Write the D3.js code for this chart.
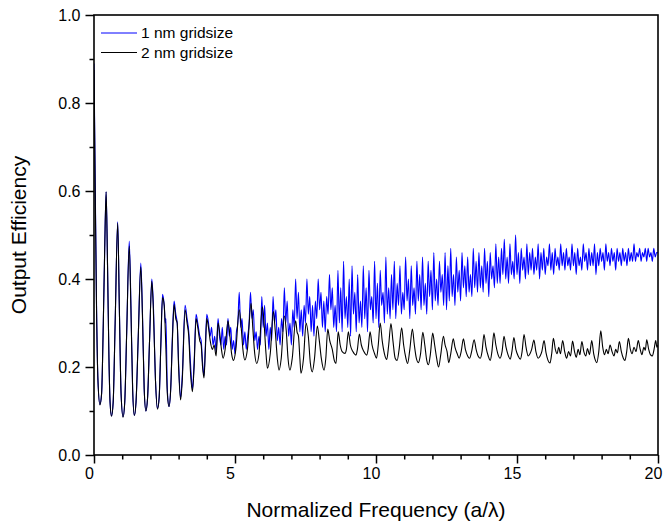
<!DOCTYPE html>
<html>
<head>
<meta charset="utf-8">
<script src="https://cdn.jsdelivr.net/npm/d3@7"></script>
<style>
  html, body { margin: 0; padding: 0; background: #fff; }
  svg { display: block; font-family: "Liberation Sans", Arial, sans-serif; }
</style>
</head>
<body>
<svg id="chart" width="664" height="524"></svg>
<script>
// Series labels
const seriesNames = ["1 nm gridsize", "2 nm gridsize"];

// Axis ticks
const xMajorTicks = [0, 5, 10, 15, 20];
const xMinorTicks = [1, 2, 3, 4, 6, 7, 8, 9, 11, 12, 13, 14, 16, 17, 18, 19];
const yMajorTicks = [0.0, 0.2, 0.4, 0.6, 0.8, 1.0];
const yMinorTicks = [0.1, 0.3, 0.5, 0.7, 0.9];

// 2 nm grid: [frequency a/λ, efficiency]
const coarseGrid = [
  [0,0.875],[0.04,0.62],[0.09,0.33],[0.14,0.17],[0.21,0.114],[0.27,0.14],[0.33,0.30],[0.38,0.47],[0.43,0.598],[0.48,0.43],
  [0.53,0.22],[0.57,0.12],[0.62,0.088],[0.68,0.12],[0.75,0.30],[0.84,0.527],[0.90,0.33],[0.96,0.14],[1.03,0.086],[1.09,0.12],
  [1.16,0.28],[1.25,0.475],[1.31,0.33],[1.37,0.15],[1.43,0.09],[1.49,0.12],[1.57,0.27],[1.66,0.428],[1.72,0.31],[1.78,0.15],
  [1.84,0.10],[1.90,0.13],[1.97,0.26],[2.05,0.395],[2.10,0.34],[2.18,0.17],[2.25,0.104],[2.31,0.13],[2.37,0.25],[2.43,0.358],
  [2.49,0.34],[2.55,0.24],[2.60,0.14],[2.66,0.11],[2.72,0.15],[2.78,0.26],[2.84,0.342],[2.90,0.31],[2.95,0.30],[3.00,0.20],
  [3.07,0.125],[3.13,0.17],[3.23,0.33],[3.30,0.30],[3.36,0.27],[3.42,0.19],[3.49,0.144],[3.55,0.20],[3.62,0.31],[3.68,0.29],
  [3.75,0.26],[3.80,0.25],[3.85,0.20],[3.90,0.175],[3.95,0.24],[4.00,0.31],[4.06,0.29],[4.12,0.26],[4.20,0.24],[4.26,0.25],
  [4.33,0.225],[4.40,0.30],[4.47,0.27],[4.52,0.24],[4.58,0.22],[4.65,0.24],[4.75,0.305],[4.82,0.27],[4.88,0.23],[4.95,0.215],
  [5.03,0.24],[5.15,0.33],[5.22,0.29],[5.28,0.24],[5.35,0.216],[5.44,0.24],[5.57,0.345],[5.63,0.29],[5.70,0.23],[5.77,0.208],
  [5.85,0.23],[5.97,0.337],[6.03,0.30],[6.10,0.23],[6.15,0.197],[6.25,0.23],[6.36,0.326],[6.43,0.28],[6.50,0.22],[6.56,0.193],
  [6.64,0.22],[6.75,0.316],[6.82,0.28],[6.88,0.22],[6.95,0.193],[7.03,0.22],[7.15,0.305],[7.20,0.28],[7.25,0.27],[7.30,0.22],
  [7.34,0.186],[7.43,0.22],[7.52,0.30],[7.60,0.27],[7.67,0.21],[7.74,0.189],[7.82,0.22],[7.92,0.293],[7.99,0.26],[8.06,0.22],
  [8.16,0.193],[8.22,0.22],[8.29,0.286],[8.36,0.26],[8.45,0.24],[8.52,0.215],[8.58,0.208],[8.66,0.28],[8.73,0.25],[8.80,0.235],
  [8.90,0.231],[8.95,0.24],[9.02,0.28],[9.09,0.25],[9.18,0.235],[9.29,0.227],[9.34,0.24],[9.41,0.275],[9.48,0.25],[9.57,0.235],
  [9.67,0.227],[9.72,0.24],[9.79,0.28],[9.86,0.25],[9.95,0.23],[10.02,0.22],[10.08,0.25],[10.15,0.30],[10.22,0.26],[10.30,0.23],
  [10.38,0.217],[10.45,0.25],[10.53,0.299],[10.60,0.26],[10.68,0.22],[10.75,0.215],[10.82,0.24],[10.91,0.289],[10.98,0.25],[11.06,0.22],
  [11.12,0.208],[11.20,0.24],[11.29,0.286],[11.36,0.25],[11.43,0.22],[11.50,0.21],[11.58,0.23],[11.66,0.279],[11.73,0.25],[11.80,0.215],
  [11.86,0.205],[11.93,0.23],[12.01,0.277],[12.08,0.25],[12.15,0.22],[12.22,0.20],[12.30,0.23],[12.39,0.27],[12.45,0.25],[12.52,0.235],
  [12.58,0.21],[12.65,0.23],[12.74,0.264],[12.80,0.245],[12.88,0.23],[12.95,0.22],[13.02,0.235],[13.10,0.264],[13.17,0.24],[13.25,0.225],
  [13.32,0.22],[13.39,0.235],[13.48,0.262],[13.55,0.24],[13.62,0.225],[13.70,0.22],[13.76,0.235],[13.83,0.274],[13.90,0.245],[13.98,0.225],
  [14.05,0.215],[14.11,0.235],[14.18,0.278],[14.25,0.25],[14.32,0.23],[14.40,0.22],[14.47,0.235],[14.54,0.27],[14.61,0.245],[14.68,0.228],
  [14.76,0.218],[14.82,0.235],[14.89,0.267],[14.96,0.24],[15.04,0.225],[15.12,0.218],[15.18,0.235],[15.25,0.274],[15.32,0.245],[15.40,0.225],
  [15.46,0.23],[15.52,0.24],[15.60,0.261],[15.67,0.235],[15.75,0.22],[15.82,0.225],[15.88,0.235],[15.96,0.26],[16.03,0.232],[16.10,0.215],
  [16.17,0.209],[16.23,0.23],[16.29,0.265],[16.36,0.24],[16.42,0.23],[16.48,0.245],[16.54,0.23],[16.62,0.26],[16.69,0.235],[16.76,0.22],
  [16.83,0.235],[16.90,0.225],[16.97,0.259],[17.04,0.235],[17.10,0.222],[17.17,0.24],[17.23,0.228],[17.30,0.258],[17.37,0.235],[17.44,0.225],
  [17.50,0.242],[17.57,0.228],[17.65,0.26],[17.72,0.23],[17.78,0.215],[17.83,0.21],[17.90,0.235],[17.97,0.282],[18.04,0.245],[18.10,0.228],
  [18.17,0.24],[18.23,0.23],[18.30,0.25],[18.37,0.235],[18.44,0.225],[18.50,0.24],[18.56,0.232],[18.63,0.258],[18.70,0.235],[18.77,0.22],
  [18.83,0.215],[18.89,0.235],[18.95,0.265],[19.02,0.24],[19.08,0.23],[19.15,0.245],[19.22,0.235],[19.30,0.26],[19.37,0.24],[19.43,0.228],
  [19.50,0.245],[19.55,0.238],[19.60,0.262],[19.67,0.24],[19.73,0.228],[19.80,0.225],[19.86,0.24],[19.92,0.26],[19.96,0.245],[20.0,0.25]
];

// 1 nm grid, low-frequency part: [frequency a/λ, efficiency]
const fineGridLow = [
  [0,0.89],[0.04,0.64],[0.09,0.34],[0.14,0.17],[0.21,0.115],[0.27,0.14],[0.33,0.30],[0.38,0.47],[0.43,0.598],[0.48,0.43],
  [0.53,0.22],[0.57,0.12],[0.62,0.089],[0.68,0.12],[0.75,0.30],[0.84,0.53],[0.90,0.33],[0.96,0.14],[1.03,0.087],[1.09,0.12],
  [1.16,0.28],[1.25,0.486],[1.31,0.34],[1.37,0.15],[1.43,0.09],[1.49,0.12],[1.57,0.27],[1.66,0.436],[1.72,0.32],[1.78,0.15],
  [1.84,0.10],[1.90,0.13],[1.97,0.26],[2.05,0.40],[2.10,0.35],[2.18,0.17],[2.25,0.106],[2.31,0.13],[2.37,0.25],[2.43,0.365],
  [2.49,0.34],[2.53,0.30],[2.55,0.31],[2.60,0.15],[2.66,0.11],[2.72,0.15],[2.78,0.27],[2.84,0.35],[2.90,0.32],[2.95,0.30],
  [3.00,0.21],[3.07,0.13],[3.13,0.18],[3.23,0.34],[3.30,0.31],[3.36,0.28],[3.42,0.21],[3.49,0.15],[3.55,0.21],[3.62,0.32],
  [3.68,0.30],[3.75,0.27],[3.80,0.26],[3.85,0.21],[3.90,0.18],[3.95,0.25],[4.00,0.32],[4.06,0.30],[4.12,0.27],[4.17,0.29],
  [4.22,0.25],[4.28,0.27],[4.33,0.235]
];

// 1 nm grid, sampled every 0.05 a/λ from 4.40 to 20.00
const fineGridStart = 4.40;
const fineGridStep = 0.05;
const fineGridHigh = [
  0.31,0.27,0.25,0.29,0.24,0.27,0.25,0.31,0.27,0.29,0.24,0.26,0.23,0.28,0.30,0.37,0.29,0.31,0.25,0.28,
  0.24,0.27,0.30,0.37,0.31,0.33,0.26,0.28,0.24,0.27,0.25,0.36,0.29,0.34,0.27,0.30,0.24,0.29,0.26,0.36,
  0.30,0.33,0.26,0.29,0.25,0.31,0.28,0.38,0.30,0.35,0.27,0.30,0.25,0.33,0.29,0.40,0.31,0.37,0.28,0.33,
  0.27,0.34,0.30,0.40,0.32,0.36,0.28,0.34,0.27,0.35,0.31,0.40,0.33,0.37,0.29,0.35,0.28,0.36,0.32,0.41,
  0.33,0.38,0.29,0.34,0.28,
  0.42,0.30,0.38,0.28,0.44,0.31,0.36,0.29,0.40,0.27,0.43,0.32,0.37,0.28,0.41,0.30,0.35,0.29,0.43,0.31,
  0.38,0.28,0.42,0.33,0.36,0.30,0.44,0.31,0.39,0.29,0.42,0.34,0.37,0.30,0.45,0.32,0.38,0.31,0.41,0.33,
  0.44,0.31,0.39,0.34,0.43,0.32,0.37,0.33,0.45,0.35,0.40,0.31,0.43,0.34,0.38,0.32,0.44,0.35,0.41,0.33,
  0.45,0.34,0.39,0.32,0.44,0.36,0.42,0.33,0.46,0.35,0.40,0.34,0.44,0.37,0.41,0.34,0.46,0.33,0.43,0.35,
  0.47,0.36,0.41,0.34,0.45,0.37,0.42,0.35,0.46,0.38,0.43,0.36,0.45,0.37,0.41,0.36,0.47,0.38,0.44,0.37,
  0.46,0.38,0.43,0.37,0.47,0.39,0.44,0.36,0.46,0.40,0.43,0.38,0.48,0.39,0.45,0.39,0.47,0.41,0.49,0.40,
  0.45,0.39,0.48,0.41,0.44,0.40,0.50,0.41,0.46,0.39,0.47,0.42,0.45,0.40,0.48,0.41,0.46,0.42,0.47,0.41,
  0.45,0.42,0.48,0.40,0.46,0.42,0.47,0.41,0.45,0.43,0.48,0.42,0.46,0.41,0.47,0.43,0.45,0.42,0.48,0.43,
  0.46,0.42,0.47,0.43,0.45,0.42,0.48,0.43,0.46,0.41,0.47,0.43,0.45,0.42,0.48,0.44,0.46,0.42,0.47,0.43,
  0.46,0.43,0.48,0.41,0.46,0.43,0.47,0.44,0.46,0.42,0.48,0.44,0.46,0.43,0.47,0.44,0.46,0.42,0.47,0.44,
  0.46,0.43,0.47,0.44,0.46,0.43,0.47,0.44,0.46,0.44,0.48,0.44,0.46,0.45,0.47,0.44,0.46,0.45,0.47,0.44,
  0.47,0.45,0.46,0.44,0.47,0.45,0.46,0.46
];

const fineGrid = fineGridLow.concat(
  fineGridHigh.map((v, i) => [+(fineGridStart + i * fineGridStep).toFixed(2), v])
);

const svg = d3.select("#chart");
const plot = { left: 94, right: 658, top: 15, bottom: 455 };

const x = d3.scaleLinear().domain([0, 20]).range([plot.left, plot.right]);
const y = d3.scaleLinear().domain([0, 1]).range([plot.bottom, plot.top]);

svg.append("defs").append("clipPath").attr("id", "plot-clip")
  .append("rect")
  .attr("x", plot.left).attr("y", plot.top)
  .attr("width", plot.right - plot.left).attr("height", plot.bottom - plot.top);

const line = d3.line()
  .x(d => x(d[0]))
  .y(d => y(d[1]))
  .curve(d3.curveMonotoneX);

const curves = svg.append("g").attr("clip-path", "url(#plot-clip)");

curves.append("path")
  .datum(fineGrid)
  .attr("fill", "none")
  .attr("stroke", "#0000ff")
  .attr("stroke-width", 1.1)
  .attr("stroke-linejoin", "round")
  .attr("d", line);

curves.append("path")
  .datum(coarseGrid)
  .attr("fill", "none")
  .attr("stroke", "#000")
  .attr("stroke-width", 1.1)
  .attr("stroke-linejoin", "round")
  .attr("d", line);

// Axes
const axisStyle = g => {
  g.select(".domain").remove();
  g.selectAll(".tick line").attr("stroke", "#000").attr("stroke-width", 1.5);
  g.selectAll(".tick text")
    .attr("fill", "#000")
    .style("font-size", "16px")
    .style("font-family", "'Liberation Sans', Arial, sans-serif");
};

svg.append("g")
  .attr("transform", `translate(0,${plot.bottom})`)
  .call(d3.axisBottom(x).tickValues(xMinorTicks).tickSize(4.5).tickFormat(""))
  .call(axisStyle);

svg.append("g")
  .attr("transform", `translate(0,${plot.bottom})`)
  .call(d3.axisBottom(x).tickValues(xMajorTicks).tickSize(8.5).tickPadding(4).tickFormat(d3.format("d")))
  .call(axisStyle)
  .call(g => g.selectAll(".tick text").attr("dx", "-5"));

svg.append("g")
  .attr("transform", `translate(${plot.left},0)`)
  .call(d3.axisLeft(y).tickValues(yMinorTicks).tickSize(4.5).tickFormat(""))
  .call(axisStyle);

svg.append("g")
  .attr("transform", `translate(${plot.left},0)`)
  .call(d3.axisLeft(y).tickValues(yMajorTicks).tickSize(8.5).tickPadding(5).tickFormat(d3.format(".1f")))
  .call(axisStyle);

// Frame
svg.append("rect")
  .attr("x", plot.left).attr("y", plot.top)
  .attr("width", plot.right - plot.left).attr("height", plot.bottom - plot.top)
  .attr("fill", "none")
  .attr("stroke", "#000")
  .attr("stroke-width", 1.6);

// Axis titles
svg.append("text")
  .attr("x", (plot.left + plot.right) / 2)
  .attr("y", 517)
  .attr("text-anchor", "middle")
  .style("font-size", "21px")
  .text("Normalized Frequency (a/λ)");

svg.append("text")
  .attr("transform", `translate(26,${(plot.top + plot.bottom) / 2}) rotate(-90)`)
  .attr("text-anchor", "middle")
  .style("font-size", "21px")
  .text("Output Efficiency");

// Legend
const legendColors = ["#0000ff", "#000"];
const legend = svg.append("g");
seriesNames.forEach((name, i) => {
  const ly = 33 + i * 19.5;
  legend.append("line")
    .attr("x1", 101).attr("x2", 137)
    .attr("y1", ly).attr("y2", ly)
    .attr("stroke", legendColors[i])
    .attr("stroke-width", 1);
  legend.append("text")
    .attr("x", 141).attr("y", ly)
    .attr("dy", "0.35em")
    .style("font-size", "15.5px")
    .text(name);
});
</script>
</body>
</html>
